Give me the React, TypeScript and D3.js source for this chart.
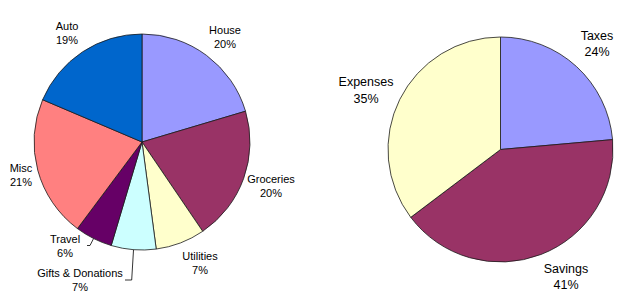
import React from "react";
import * as d3 from "d3";

const leftCategories = ["House", "Groceries", "Utilities", "Gifts & Donations", "Travel", "Misc", "Auto"];
const leftValues = [20.4, 20.1, 7.4, 6.7, 5.6, 21.2, 18.6];
const leftColors = ["#9999FF", "#993366", "#FFFFCC", "#CCFFFF", "#660066", "#FF8080", "#0066CC"];

const rightCategories = ["Taxes", "Savings", "Expenses"];
const rightValues = [23.6, 41.1, 35.3];
const rightColors = ["#9999FF", "#993366", "#FFFFCC"];

// label layout: offsets of label center from pie center (layout only)
const leftLabelOffsets: [number, number][] = [
  [83, -105], [129, 44], [58, 121.5], [-62, 138.5], [-77, 104], [-121, 33.5], [-75, -109],
];
const leftLeaders: ([number, number][] | null)[] = [
  null, null, null,
  [[-10.3, 138], [-17, 138]],
  [[-52, 103.5], [-55, 103.5]],
  null, null,
];
const rightLabelOffsets: [number, number][] = [[96.5, -106], [65.5, 127], [-134.5, -59.5]];

type PieProps = {
  cx: number; cy: number; r: number;
  cats: string[]; vals: number[]; colors: string[];
  offsets: [number, number][]; leaders?: ([number, number][] | null)[];
  fontSize: number; lineGap: number;
};

function Pie({ cx, cy, r, cats, vals, colors, offsets, leaders, fontSize, lineGap }: PieProps) {
  const total = d3.sum(vals);
  const arcs = d3.pie<number>().sort(null).value((d) => d)(vals);
  const arc = d3.arc<d3.PieArcDatum<number>>().innerRadius(0).outerRadius(r);
  return (
    <g transform={`translate(${cx},${cy})`}>
      {arcs.map((a, i) => (
        <path key={i} d={arc(a) || ""} fill={colors[i]} stroke="#1a1a1a" strokeWidth={0.8} strokeLinejoin="round" />
      ))}
      {arcs.map((a, i) => {
        const ld = leaders ? leaders[i] : null;
        if (!ld) return null;
        const mid = (a.startAngle + a.endAngle) / 2;
        const p0: [number, number] = [r * Math.sin(mid), -r * Math.cos(mid)];
        const pts = [p0, ...ld];
        return (
          <path key={"l" + i} d={d3.line()(pts) || ""} fill="none" stroke="#000" strokeWidth={0.8} />
        );
      })}
      {arcs.map((a, i) => {
        const [dx, dy] = offsets[i];
        const pct = Math.round((vals[i] / total) * 100);
        return (
          <text key={"t" + i} x={dx} textAnchor="middle" fontSize={fontSize} fill="#000"
            fontFamily="'Liberation Sans', Arial, sans-serif">
            <tspan x={dx} y={dy - lineGap / 2 + fontSize * 0.36}>{cats[i]}</tspan>
            <tspan x={dx} y={dy + lineGap / 2 + fontSize * 0.36}>{pct}%</tspan>
          </text>
        );
      })}
    </g>
  );
}

export default function App() {
  return (
    <svg width={640} height={303} style={{ position: "absolute", left: 0, top: 0, background: "#fff" }}>
      <rect width={640} height={303} fill="#fff" />
      <Pie cx={142} cy={142} r={108} cats={leftCategories} vals={leftValues} colors={leftColors}
        offsets={leftLabelOffsets} leaders={leftLeaders} fontSize={11} lineGap={14} />
      <Pie cx={500.5} cy={149.5} r={112.5} cats={rightCategories} vals={rightValues} colors={rightColors}
        offsets={rightLabelOffsets} fontSize={12.5} lineGap={16.5} />
    </svg>
  );
}
